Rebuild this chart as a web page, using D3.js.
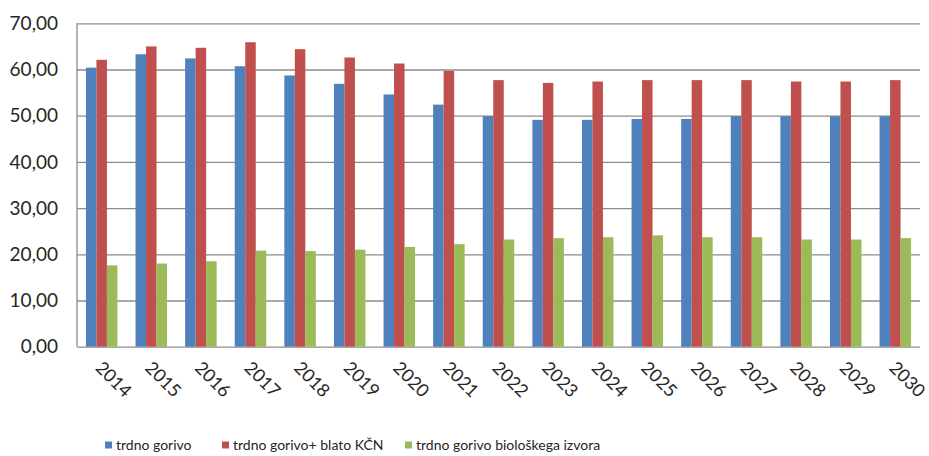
<!DOCTYPE html>
<html>
<head>
<meta charset="utf-8">
<script src="https://cdn.jsdelivr.net/npm/d3@7"></script>
<style>
  body { margin: 0; background: #fff; }
  svg { display: block; font-family: Lato, "Open Sans", sans-serif; }
  .grid line { stroke: #8c8c8c; stroke-width: 1.3; }
  .grid path { display: none; }
</style>
</head>
<body>
<svg id="chart" width="929" height="456"></svg>
<script>
// --- data ---
var years = ["2014","2015","2016","2017","2018","2019","2020","2021","2022","2023","2024","2025","2026","2027","2028","2029","2030"]
var seriesNames = ["trdno gorivo", "trdno gorivo+ blato KČN", "trdno gorivo biološkega izvora"]
var solidFuel   = [60.4, 63.3, 62.4, 60.7, 58.7, 56.9, 54.6, 52.4, 49.9, 49.1, 49.1, 49.3, 49.3, 49.9, 49.9, 49.9, 49.9]
var withSludge  = [62.1, 65.0, 64.7, 65.9, 64.4, 62.6, 61.3, 59.7, 57.7, 57.1, 57.4, 57.7, 57.7, 57.7, 57.4, 57.4, 57.7]
var bioFuel     = [17.6, 18.0, 18.5, 20.8, 20.7, 21.0, 21.6, 22.2, 23.2, 23.5, 23.7, 24.1, 23.7, 23.7, 23.2, 23.2, 23.5]
var yTicks = [0, 10, 20, 30, 40, 50, 60, 70]
var colors = ["#4f81bd", "#c0504d", "#9bbb59"]

var allSeries = [solidFuel, withSludge, bioFuel]

var plotLeft = 77, plotRight = 920, plotTop = 23.3, plotBottom = 346.7

var svg = d3.select("#chart")

var xScale = d3.scaleBand()
    .domain(years)
    .range([plotLeft, plotRight])
    .paddingInner(0.365)
    .paddingOuter(0.18)

var inner = d3.scaleBand()
    .domain(d3.range(allSeries.length))
    .range([0, xScale.bandwidth()])

var yScale = d3.scaleLinear()
    .domain([0, 70])
    .range([plotBottom, plotTop])

var fmt = function(v) { return d3.format(".2f")(v).replace(".", ",") }

// gridlines
svg.append("g")
    .attr("class", "grid")
    .attr("transform", "translate(" + plotLeft + ",0)")
    .call(d3.axisLeft(yScale).tickValues(yTicks).tickSize(-(plotRight - plotLeft)).tickFormat(""))

// left axis line
svg.append("line")
    .attr("x1", plotLeft).attr("x2", plotLeft)
    .attr("y1", yScale(70)).attr("y2", yScale(0))
    .attr("stroke", "#8c8c8c").attr("stroke-width", 1.3)

// y labels
svg.append("g").selectAll("text")
    .data(yTicks)
    .join("text")
    .attr("x", 58)
    .attr("y", function(d) { return yScale(d) })
    .attr("dy", "0.35em")
    .attr("text-anchor", "end")
    .attr("font-size", "19px")
    .attr("fill", "#262626")
    .text(fmt)

// bars
allSeries.forEach(function(values, s) {
  svg.append("g").selectAll("rect")
    .data(values)
    .join("rect")
    .attr("x", function(d, i) { return xScale(years[i]) + inner(s) })
    .attr("width", inner.bandwidth())
    .attr("y", function(d) { return yScale(d) })
    .attr("height", function(d) { return yScale(0) - yScale(d) })
    .attr("fill", colors[s])
})

// x labels, rotated
svg.append("g").selectAll("text")
    .data(years)
    .join("text")
    .attr("transform", function(d) {
      var cx = xScale(d) + xScale.bandwidth() / 2 + 3
      return "translate(" + cx + "," + (plotBottom + 12) + ")rotate(45)"
    })
    .attr("dy", "0.8em")
    .attr("font-size", "18px")
    .attr("fill", "#262626")
    .text(function(d) { return d })

// legend
var legendX = [105, 222, 405]
var legend = svg.append("g").selectAll("g")
    .data(seriesNames)
    .join("g")
    .attr("transform", function(d, i) { return "translate(" + legendX[i] + ",445)" })

legend.append("rect")
    .attr("x", 0).attr("y", -3.5)
    .attr("width", 7).attr("height", 7)
    .attr("fill", function(d, i) { return colors[i] })

legend.append("text")
    .attr("x", 11)
    .attr("dy", "0.35em")
    .attr("font-size", "14px")
    .attr("fill", "#262626")
    .text(function(d) { return d })
</script>
</body>
</html>
